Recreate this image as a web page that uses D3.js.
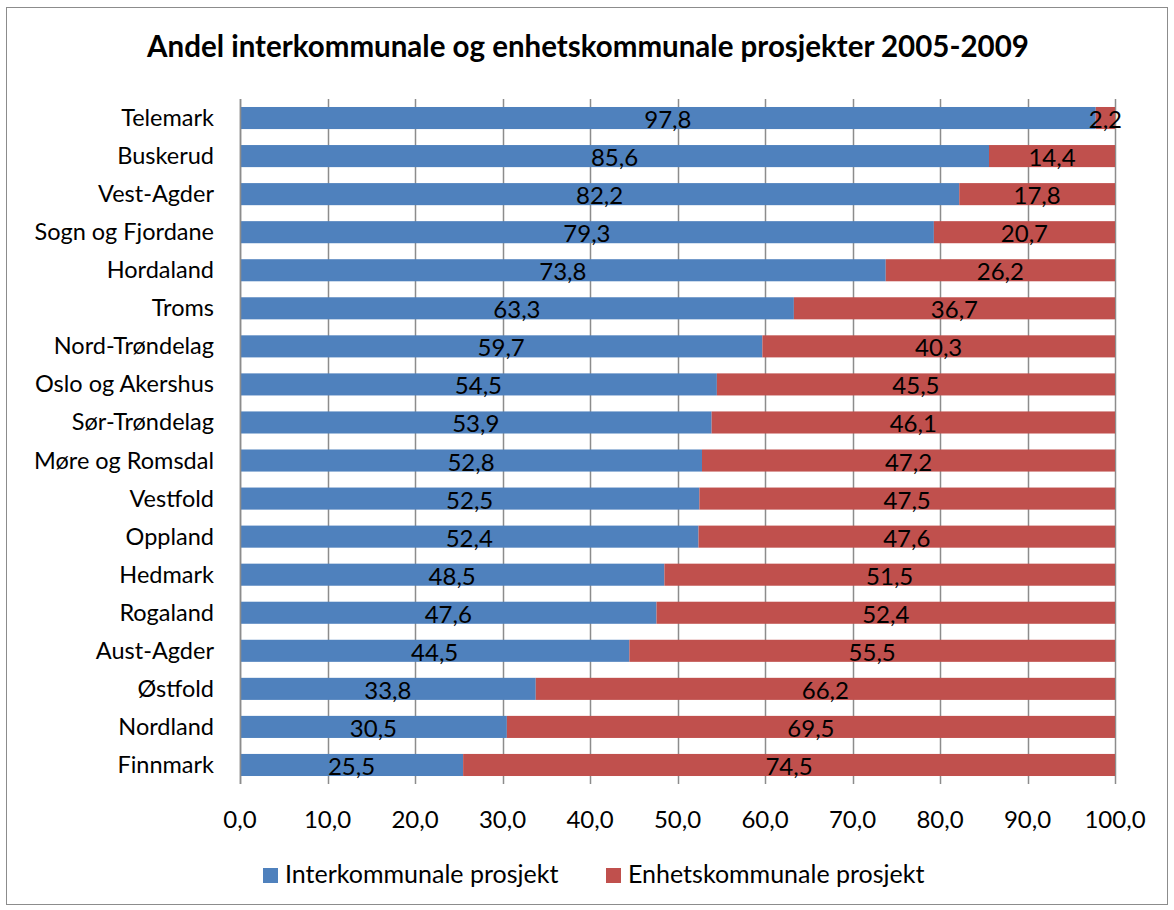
<!DOCTYPE html>
<html><head><meta charset="utf-8">
<script src="https://cdn.jsdelivr.net/npm/d3@7"></script>
<style>body{margin:0;background:#fff}svg{display:block}text{font-family:Lato,"Open Sans",sans-serif}</style>
</head><body><svg id="c" width="1174" height="910"></svg>
<script>
const categories = ["Telemark","Buskerud","Vest-Agder","Sogn og Fjordane","Hordaland","Troms","Nord-Trøndelag","Oslo og Akershus","Sør-Trøndelag","Møre og Romsdal","Vestfold","Oppland","Hedmark","Rogaland","Aust-Agder","Østfold","Nordland","Finnmark"];
const inter = [97.8,85.6,82.2,79.3,73.8,63.3,59.7,54.5,53.9,52.8,52.5,52.4,48.5,47.6,44.5,33.8,30.5,25.5];
const enhet = [2.2,14.4,17.8,20.7,26.2,36.7,40.3,45.5,46.1,47.2,47.5,47.6,51.5,52.4,55.5,66.2,69.5,74.5];
const seriesNames = ["Interkommunale prosjekt","Enhetskommunale prosjekt"];
const colors = ["#4F81BD","#C0504D"];
const xTicks = [0,10,20,30,40,50,60,70,80,90,100];
const title = "Andel interkommunale og enhetskommunale prosjekter 2005-2009";

const svg = d3.select("#c");
const fmt = v => v.toFixed(1).replace(".", ",");
svg.append("rect").attr("x",6.5).attr("y",7.5).attr("width",1161).attr("height",897).attr("fill","#fff").attr("stroke","#8c8c8c").attr("stroke-width",1);
svg.append("text").attr("x",588).attr("y",57).attr("text-anchor","middle").attr("font-size",29.5).attr("font-weight","bold").text(title);

const x = d3.scaleLinear().domain([0,100]).range([240,1115]);
const y = d3.scaleBand().domain(categories).range([99,784]).paddingInner(0.42).paddingOuter(0.21);

// gridlines
svg.append("g").selectAll("line").data(xTicks).enter().append("line")
 .attr("x1",d=>Math.round(x(d))+0.5).attr("x2",d=>Math.round(x(d))+0.5)
 .attr("y1",99).attr("y2",784).attr("stroke","#8c8c8c").attr("stroke-width",1.5);

const rows = categories.map((c,i)=>({c, vals:[inter[i],enhet[i]]}));
rows.forEach(r=>{
  let acc=0;
  r.vals.forEach((v,j)=>{
    const x0 = x(acc), x1 = x(acc+v);
    svg.append("rect").attr("x",x0).attr("y",y(r.c)).attr("width",x1-x0).attr("height",y.bandwidth()).attr("fill",colors[j]);
    acc+=v;
  });
});
rows.forEach(r=>{
  let acc=0;
  r.vals.forEach((v,j)=>{
    const x0 = x(acc), x1 = x(acc+v);
    svg.append("text").attr("x",(x0+x1)/2).attr("y",y(r.c)+y.bandwidth()/2+10).attr("text-anchor","middle").attr("font-size",24).attr("fill","#000").text(fmt(v));
    acc+=v;
  });
});

// y axis line
svg.append("line").attr("x1",240.5).attr("x2",240.5).attr("y1",99).attr("y2",784).attr("stroke","#8c8c8c").attr("stroke-width",1.5);
// category labels
svg.selectAll("text.cat").data(categories).enter().append("text").attr("class","cat")
 .attr("x",214).attr("y",d=>y(d)+y.bandwidth()/2+8).attr("text-anchor","end").attr("font-size",23.5).text(d=>d);
// x tick labels
svg.selectAll("text.xt").data(xTicks).enter().append("text").attr("class","xt")
 .attr("x",d=>x(d)).attr("y",828).attr("text-anchor","middle").attr("font-size",24).text(d=>fmt(d));
// legend
const leg = [{x:263},{x:606}];
seriesNames.forEach((s,i)=>{
  svg.append("rect").attr("x",leg[i].x).attr("y",868).attr("width",15).attr("height",15).attr("fill",colors[i]);
  svg.append("text").attr("x",leg[i].x+22).attr("y",883).attr("font-size",25).text(s);
});
</script></body></html>
